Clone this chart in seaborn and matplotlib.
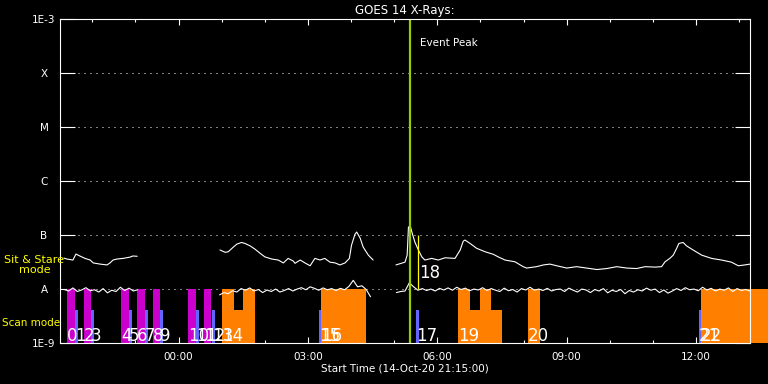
import numpy as np
import pandas as pd
import matplotlib
matplotlib.use('Agg')
import matplotlib.pyplot as plt
from matplotlib.ticker import FixedLocator, NullLocator
import seaborn as sns

# time axis: hours since 14-Oct-20 21:15:00

# GOES 1-8 A channel (upper curve), three segments with data gaps
long_t1 = [0.09, 0.16, 0.30, 0.37, 0.46, 0.58, 0.70, 0.77, 0.93, 1.09, 1.16, 1.23, 1.32, 1.46, 1.62, 1.69, 1.79]
long_f1 = [3.75e-8, 3.6e-8, 3.45e-8, 4.45e-8, 4.1e-8, 3.7e-8, 3.45e-8, 3.05e-8, 2.9e-8, 2.8e-8, 3.05e-8,
           3.45e-8, 3.6e-8, 3.7e-8, 3.9e-8, 4.1e-8, 4.05e-8]
long_t2 = [3.71, 3.83, 3.90, 4.02, 4.10, 4.21, 4.29, 4.41, 4.52, 4.64, 4.75, 4.91, 5.06, 5.18, 5.29, 5.41,
           5.45, 5.57, 5.68, 5.80, 5.91, 6.03, 6.14, 6.26, 6.38, 6.49, 6.61, 6.71, 6.76, 6.84, 6.88, 6.96,
           7.03, 7.15, 7.26]
long_f2 = [5.3e-8, 4.8e-8, 4.9e-8, 6.0e-8, 6.8e-8, 7.3e-8, 7.0e-8, 6.3e-8, 5.5e-8, 4.6e-8, 3.95e-8, 3.6e-8,
           3.45e-8, 3.05e-8, 3.7e-8, 3.3e-8, 3.0e-8, 3.45e-8, 3.05e-8, 2.7e-8, 3.7e-8, 3.45e-8, 3.7e-8,
           3.15e-8, 3.05e-8, 2.8e-8, 3.05e-8, 3.7e-8, 6.5e-8, 1.04e-7, 1.14e-7, 8.8e-8, 6.0e-8, 4.25e-8,
           3.45e-8]
long_t3 = [7.79, 8.00, 8.05, 8.08, 8.12, 8.16, 8.23, 8.31, 8.39, 8.46, 8.62, 8.77, 8.93, 9.16, 9.28, 9.35,
           9.39, 9.51, 9.66, 9.86, 10.05, 10.16, 10.32, 10.55, 10.74, 10.82, 11.05, 11.21, 11.36, 11.52,
           11.75, 11.98, 12.21, 12.45, 12.68, 12.91, 13.14, 13.37, 13.57, 13.80, 13.95, 14.03, 14.14, 14.22,
           14.30, 14.35, 14.45, 14.53, 14.68, 14.88, 15.11, 15.34, 15.57, 15.73, 15.88, 16.00]
long_f3 = [2.8e-8, 3.15e-8, 4.25e-8, 1.4e-7, 1.5e-7, 1.13e-7, 7.4e-8, 5.3e-8, 3.95e-8, 3.45e-8, 3.7e-8,
           3.45e-8, 3.8e-8, 3.7e-8, 5.3e-8, 7.7e-8, 8.1e-8, 7.0e-8, 5.7e-8, 4.9e-8, 4.4e-8, 3.95e-8, 3.45e-8,
           3.2e-8, 2.6e-8, 2.45e-8, 2.6e-8, 2.8e-8, 2.9e-8, 2.7e-8, 2.45e-8, 2.6e-8, 2.45e-8, 2.3e-8, 2.4e-8,
           2.6e-8, 2.45e-8, 2.4e-8, 2.6e-8, 2.55e-8, 2.6e-8, 3.2e-8, 3.7e-8, 4.25e-8, 5.7e-8, 7.0e-8, 7.3e-8,
           6.3e-8, 5.3e-8, 4.25e-8, 3.7e-8, 3.45e-8, 3.15e-8, 2.7e-8, 2.8e-8, 2.9e-8]

# GOES 0.5-4 A channel (lower curve), sampled every 0.1 h, in units of 1E-8
short_start = [0.1, 3.7, 7.8]
short_v1 = [0.98, 0.92, 1.05, 0.90, 0.96, 1.06, 0.93, 0.97, 0.88, 1.02, 0.85, 0.95, 0.90, 1.08, 0.94, 1.04,
            0.92, 0.97]
short_v2 = [0.78, 0.86, 0.82, 0.93, 0.88, 1.02, 0.95, 1.05, 0.92, 0.98, 0.86, 0.96, 0.90, 1.00, 0.88, 0.94,
            1.02, 0.92, 1.00, 1.06, 0.97, 1.10, 1.03, 0.95, 1.05, 0.97, 1.02, 0.94, 1.03, 0.97, 1.12, 1.45,
            1.10, 1.15, 0.98, 0.72]
short_v3 = [0.86, 0.90, 0.92, 1.30, 1.10, 0.95, 1.02, 0.94, 1.00, 0.92, 1.03, 0.96, 1.05, 0.95, 1.08, 0.98,
            1.04, 0.93, 1.00, 0.96, 1.06, 0.94, 1.02, 0.95, 0.90, 1.04, 0.93, 0.98, 0.88, 1.02, 0.96, 1.08,
            0.95, 1.00, 0.94, 1.03, 0.92, 0.98, 1.00, 0.90, 1.04, 0.95, 0.88, 1.00, 0.96, 0.86, 0.98, 0.92,
            1.02, 0.85, 0.95, 0.90, 0.98, 0.82, 0.94, 0.88, 0.97, 0.92, 1.04, 0.95, 1.00, 0.86, 0.96, 0.84,
            0.92, 1.02, 0.94, 1.06, 0.97, 1.00, 0.93, 1.08, 0.96, 1.03, 0.92, 1.00, 0.95, 1.05, 0.90, 1.02,
            0.94, 0.98, 0.92]

# observation timeline bars
bar_start = [0.16, 0.35, 0.56, 0.72, 1.41, 1.60, 1.79, 1.97, 2.16, 2.32, 2.97, 3.15, 3.34, 3.53,
             3.76, 4.04, 4.24, 6.01, 6.05, 8.26, 9.23, 9.51, 9.74, 9.99, 10.85, 14.82, 14.86]
bar_end = [0.35, 0.42, 0.72, 0.79, 1.60, 1.67, 1.97, 2.04, 2.32, 2.39, 3.15, 3.22, 3.50, 3.59,
           4.04, 4.24, 4.52, 6.05, 7.10, 8.33, 9.51, 9.74, 9.99, 10.25, 11.13, 14.86, 16.50]
bar_kind = ['raster', 'cal', 'raster', 'cal', 'raster', 'cal', 'raster', 'cal', 'raster', 'cal',
            'raster', 'cal', 'raster', 'cal', 'sit', 'sit', 'sit', 'cal', 'sit', 'cal',
            'sit', 'sit', 'sit', 'sit', 'sit', 'cal', 'sit']
bar_top = [1e-8, 4.1e-9, 1e-8, 4.1e-9, 1e-8, 4.1e-9, 1e-8, 4.1e-9, 1e-8, 4.1e-9, 1e-8, 4.1e-9, 1e-8, 4.1e-9,
           1e-8, 4.1e-9, 1e-8, 4.1e-9, 1e-8, 4.1e-9, 1e-8, 4.1e-9, 1e-8, 4.1e-9, 1e-8, 4.1e-9, 1e-8]

scan_ids = [0, 1, 2, 3, 4, 5, 6, 7, 8, 9, 10, 11, 12, 13, 14, 15, 16, 17, 19, 20, 21, 22]
scan_t = [0.16, 0.35, 0.56, 0.72, 1.41, 1.60, 1.79, 1.97, 2.16, 2.32, 2.97, 3.15, 3.34, 3.53, 3.76,
          6.01, 6.05, 8.26, 9.23, 10.85, 14.82, 14.86]

event_peak_t = 8.12
event_18_t = 8.30
event_18_range = [1e-8, 1e-7]

level_vals = [1e-3, 1e-4, 1e-5, 1e-6, 1e-7, 1e-8, 1e-9]
level_labels = ['1E-3', 'X', 'M', 'C', 'B', 'A', '1E-9']
tick_hours = [2.75, 5.75, 8.75, 11.75, 14.75]
tick_labels = ['00:00', '03:00', '06:00', '09:00', '12:00']
minor_hours = [0.75, 1.75, 3.75, 4.75, 6.75, 7.75, 9.75, 10.75, 12.75, 13.75, 15.75]

palette = {'raster': '#cc00cc', 'cal': '#6464ff', 'sit': '#ff8000'}

# tidy table for seaborn
rows = []
for k, (tt, ff) in enumerate([(long_t1, long_f1), (long_t2, long_f2), (long_t3, long_f3)]):
    for t, f in zip(tt, ff):
        rows.append({'t': t, 'flux': f, 'seg': f'long{k}'})
for k, (t0, vv) in enumerate(zip(short_start, [short_v1, short_v2, short_v3])):
    for i, v in enumerate(vv):
        rows.append({'t': t0 + 0.1 * i, 'flux': v * 1e-8, 'seg': f'short{k}'})
df = pd.DataFrame(rows)

sns.set_theme(style='dark', rc={'axes.facecolor': 'black', 'figure.facecolor': 'black',
                                'text.color': 'white', 'axes.labelcolor': 'white',
                                'xtick.color': 'white', 'ytick.color': 'white'})
plt.rcParams['font.family'] = ['DejaVu Sans']

fig = plt.figure(figsize=(7.68, 3.84), dpi=100)
ax = fig.add_axes([60 / 768, 1 - 343 / 384, 690 / 768, 323.7 / 384])
ax.set_facecolor('black')

for s, e, k, top in zip(bar_start, bar_end, bar_kind, bar_top):
    ax.bar(s, top - 1e-9, width=e - s, bottom=1e-9, align='edge', color=palette[k],
           linewidth=0, zorder=1, clip_on=False)

sns.lineplot(data=df, x='t', y='flux', units='seg', estimator=None, color='white',
             linewidth=0.8, ax=ax, legend=False, zorder=3)

ax.axvline(event_peak_t, color='#99cc00', linewidth=1.6, zorder=4)
ax.vlines(event_18_t, event_18_range[0], event_18_range[1], color='#ffff00', linewidth=0.9, zorder=4)

ax.set_yscale('log')
ax.set_ylim(1e-9, 1e-3)
ax.set_xlim(0, 16)

ax.yaxis.set_major_locator(FixedLocator(level_vals))
ax.yaxis.set_minor_locator(NullLocator())
ax.set_yticklabels(level_labels)
for lab in ax.get_yticklabels():
    lab.set_horizontalalignment('center')
ax.tick_params(axis='y', which='major', direction='in', length=10.8, width=0.8, pad=11.5,
               left=True, right=True, labelsize=7.5, colors='white')

ax.xaxis.set_major_locator(FixedLocator(tick_hours))
ax.xaxis.set_minor_locator(FixedLocator(minor_hours))
ax.set_xticklabels(tick_labels)
ax.tick_params(axis='x', which='major', direction='in', length=4.3, width=0.8, pad=6.5,
               top=True, bottom=True, labelsize=7.5, colors='white')
ax.tick_params(axis='x', which='minor', direction='in', length=2.5, width=0.8,
               top=True, bottom=True, colors='white')

ax.grid(False)
ax.yaxis.grid(True, which='major', color='white', linestyle=(0, (1, 5)), linewidth=0.72)
ax.set_axisbelow(True)

for sp in ax.spines.values():
    sp.set_visible(True)
    sp.set_color('white')
    sp.set_linewidth(0.8)
    sp.set_zorder(5)

ax.set_title('GOES 14 X-Rays:', fontsize=8.5, color='white', pad=3.5)
ax.set_xlabel('Start Time (14-Oct-20 21:15:00)', fontsize=7.5, color='white', labelpad=1)
ax.set_ylabel('')

ax.text(8.35, 10 ** -3.44, 'Event Peak', fontsize=7.5, color='white', va='center', ha='left')

for sid, t in zip(scan_ids, scan_t):
    ax.text(t, 1.1e-9, str(sid), fontsize=12, color='white', ha='left', va='baseline', zorder=6,
            clip_on=False)
ax.text(event_18_t + 0.03, 2.0e-8, '18', fontsize=12, color='white', ha='left', va='center', zorder=6)

fig.text(34.5 / 768, 1 - 265 / 384, 'Sit & Stare\nmode', fontsize=8, color='#ffff00',
         ha='center', va='center', multialignment='center', linespacing=1.1)
fig.text(2 / 768, 1 - 323.5 / 384, 'Scan mode', fontsize=7.5, color='#ffff00', ha='left', va='center')

fig.savefig('out.png', dpi=100, facecolor='black')
